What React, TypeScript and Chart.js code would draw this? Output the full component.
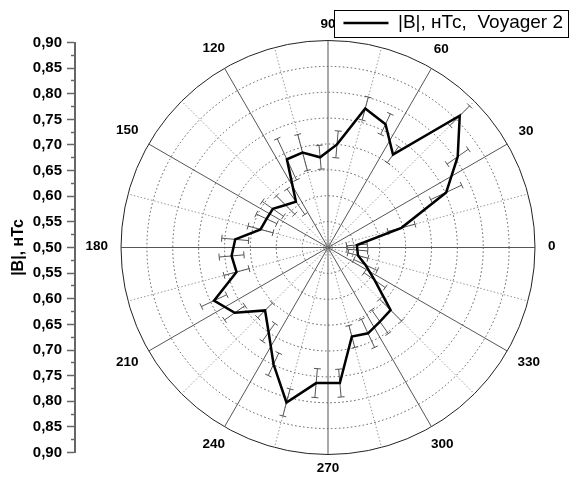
import { useEffect, useRef } from 'react';
import { Chart, registerables } from 'chart.js';

Chart.register(...registerables);

// Direction (degrees, counter-clockwise from 0 = right) of each measurement
const angles = [
  5, 15, 25, 35, 45, 55, 65, 75, 85, 95, 105, 115,
  125, 135, 145, 155, 165, 175, 185, 195, 205, 215, 225, 235,
  245, 255, 265, 275, 285, 295, 305, 315, 325, 335, 345, 355,
];
// |B|, nT (Voyager 2)
const values = [
  0.556, 0.647, 0.752, 0.806, 0.860, 0.719, 0.763, 0.778, 0.700, 0.675, 0.690, 0.688,
  0.608, 0.616, 0.630, 0.631, 0.635, 0.680, 0.687, 0.683, 0.743, 0.720, 0.672, 0.700,
  0.749, 0.810, 0.763, 0.763, 0.678, 0.683, 0.675, 0.671, 0.610, 0.580, 0.560, 0.557,
];
// error bar half-lengths
const errors = [
  0.020, 0.027, 0.033, 0.025, 0.027, 0.019, 0.022, 0.023, 0.026, 0.023, 0.036, 0.044,
  0.030, 0.025, 0.025, 0.022, 0.025, 0.026, 0.024, 0.025, 0.027, 0.024, 0.020, 0.021,
  0.024, 0.027, 0.028, 0.027, 0.022, 0.030, 0.028, 0.030, 0.025, 0.025, 0.020, 0.020,
];
const angleTickLabels = [0, 30, 60, 90, 120, 150, 180, 210, 240, 270, 300, 330];
const seriesLabel = '|B|, нТс,  Voyager 2';
const axisTitle = '|B|, нТс';

const R_MIN = 0.5;
const R_MAX = 0.9;
const R_STEP = 0.05;
const MINOR_STEP = 0.025;

const GRID_STEP = 5; // angular resolution of the radial scale (degrees)
const gridAngles = Array.from({ length: 360 / GRID_STEP }, (_, i) => (360 - i * GRID_STEP) % 360);
const indexForAngle = (a: number) => ((360 - a) % 360) / GRID_STEP;
const radarData = gridAngles.map((g) => {
  const k = angles.indexOf(g);
  return k >= 0 ? values[k] : null;
});

const FONT = '"Liberation Sans", Arial, sans-serif';

const errorBarPlugin = {
  id: 'errorBars',
  beforeDatasetsDraw(chart: any) {
    const r = chart.scales.r;
    const c = chart.ctx;
    const cap = 3.5;
    c.save();
    c.strokeStyle = '#555';
    c.lineWidth = 1;
    angles.forEach((a, k) => {
      const idx = indexForAngle(a);
      const p1 = r.getPointPositionForValue(idx, values[k] - errors[k]);
      const p2 = r.getPointPositionForValue(idx, values[k] + errors[k]);
      const ang = p1.angle;
      const px = -Math.sin(ang) * cap;
      const py = Math.cos(ang) * cap;
      c.beginPath();
      c.moveTo(p1.x, p1.y);
      c.lineTo(p2.x, p2.y);
      c.moveTo(p1.x - px, p1.y - py);
      c.lineTo(p1.x + px, p1.y + py);
      c.moveTo(p2.x - px, p2.y - py);
      c.lineTo(p2.x + px, p2.y + py);
      c.stroke();
    });
    c.restore();
  },
};

const angleLabelPlugin = {
  id: 'angleLabels',
  afterDraw(chart: any) {
    const r = chart.scales.r;
    const c = chart.ctx;
    c.save();
    c.font = `bold 13.5px ${FONT}`;
    c.fillStyle = '#000';
    c.textAlign = 'center';
    c.textBaseline = 'middle';
    angleTickLabels.forEach((a) => {
      const idx = indexForAngle(a);
      const base = r.getPointPosition(idx, r.drawingArea);
      const cs = Math.abs(Math.cos(base.angle));
      const sn = Math.abs(Math.sin(base.angle));
      const text = String(a);
      const w = c.measureText(text).width;
      const h = 10;
      const d = r.drawingArea + 10 + 3 * cs + 0.5 * (cs * w + sn * h);
      const p = r.getPointPosition(idx, d);
      c.fillText(text, p.x, p.y - 1.5);
    });
    c.restore();
  },
};

const legendFramePlugin = {
  id: 'legendFrame',
  afterDraw(chart: any) {
    const lg = chart.legend;
    if (!lg || !lg.legendHitBoxes || !lg.legendHitBoxes.length) return;
    const hb = lg.legendHitBoxes[0];
    const c = chart.ctx;
    const x0 = Math.round(hb.left - 9) + 0.5;
    const x1 = Math.round(hb.left + hb.width + 5) + 0.5;
    const y0 = Math.round(hb.top - 4) + 0.5;
    const y1 = Math.round(hb.top + hb.height + 4) + 0.5;
    c.save();
    c.strokeStyle = '#000';
    c.lineWidth = 1;
    c.strokeRect(x0, y0, x1 - x0, y1 - y0);
    c.restore();
  },
};

export default function App() {
  const ref = useRef<HTMLCanvasElement>(null);

  useEffect(() => {
    if (!ref.current) return;
    const chart = new Chart(ref.current, {
      type: 'radar',
      data: {
        labels: gridAngles.map(String),
        datasets: [
          {
            label: seriesLabel,
            data: radarData,
            borderColor: '#000',
            backgroundColor: 'rgba(0,0,0,0)',
            borderWidth: 2.5,
            borderJoinStyle: 'miter',
            pointRadius: 0,
            pointHoverRadius: 0,
            fill: false,
            tension: 0,
            spanGaps: true,
          } as any,
        ],
      },
      options: {
        responsive: false,
        animation: false,
        events: [],
        layout: { padding: { top: 7.5, bottom: 24.5, left: 0, right: 0 } },
        plugins: {
          tooltip: { enabled: false },
          legend: {
            display: true,
            position: 'top',
            align: 'end',
            labels: {
              usePointStyle: true,
              pointStyle: 'line',
              pointStyleWidth: 45,
              padding: 6,
              color: '#000',
              font: { family: FONT, size: 19 },
            },
          } as any,
        },
        scales: {
          r: {
            min: R_MIN,
            max: R_MAX,
            startAngle: 90,
            ticks: { display: false, stepSize: R_STEP },
            pointLabels: { display: false },
            grid: {
              circular: true,
              color: (ctx: any) => (ctx.tick && ctx.tick.value > R_MAX - 0.001 ? '#222' : '#555'),
              lineWidth: 1,
            },
            border: {
              dash: (ctx: any) => (ctx.tick && ctx.tick.value > R_MAX - 0.001 ? [] : [1.5, 2.5]),
            },
            angleLines: {
              display: true,
              color: (ctx: any) => {
                const a = gridAngles[ctx.index];
                if (a % 30 === 0) return '#555';
                if (a % 15 === 0) return '#999';
                return 'rgba(0,0,0,0)';
              },
              lineWidth: (ctx: any) => (gridAngles[ctx.index] % 15 === 0 ? 1 : 0),
              borderDash: (ctx: any) => (gridAngles[ctx.index] % 30 === 0 ? [] : [1.5, 2]),
            },
            afterFit: (s: any) => {
              s.xCenter = 328;
              s.yCenter = 247.5;
              s.drawingArea = 207;
            },
          } as any,
          y: {
            type: 'linear',
            position: 'left',
            min: -(R_MAX - R_MIN),
            max: R_MAX - R_MIN,
            afterFit: (s: any) => {
              s.width = 75;
            },
            ticks: {
              stepSize: MINOR_STEP,
              autoSkip: false,
              padding: 5,
              color: '#000',
              font: { family: FONT, size: 15, weight: 'bold' },
              callback: (v: any) => {
                const k = Math.round(Number(v) / MINOR_STEP);
                if (k % 2 !== 0) return '';
                return (R_MIN + Math.abs(k * MINOR_STEP)).toFixed(2).replace('.', ',');
              },
            },
            grid: {
              display: true,
              drawOnChartArea: false,
              drawTicks: true,
              tickLength: 8,
              tickColor: '#666',
              tickWidth: 1.5,
              tickBorderDash: (ctx: any) =>
                Math.round(ctx.tick.value / MINOR_STEP) % 2 !== 0 ? [4, 4] : [],
              tickBorderDashOffset: (ctx: any) =>
                Math.round(ctx.tick.value / MINOR_STEP) % 2 !== 0 ? 4 : 0,
            },
            border: { display: true, color: '#666', width: 2 },
            title: {
              display: true,
              text: axisTitle,
              color: '#000',
              font: { family: FONT, size: 16, weight: 'bold' },
              padding: { top: 9, bottom: 0 },
            },
          } as any,
        },
      },
      plugins: [errorBarPlugin, angleLabelPlugin, legendFramePlugin],
    });
    return () => chart.destroy();
  }, []);

  return (
    <div style={{ position: 'fixed', left: 0, top: 0, width: 569, height: 477, background: '#fff' }}>
      <canvas ref={ref} width={569} height={477} style={{ width: 569, height: 477, display: 'block' }} />
    </div>
  );
}
